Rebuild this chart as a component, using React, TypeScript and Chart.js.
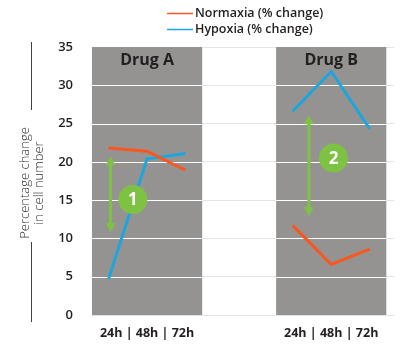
import { useEffect, useRef } from 'react';
import { Chart, registerables } from 'chart.js';

Chart.register(...registerables);

// ---- data ----
const groups = ['Drug A', 'Drug B'];
const timepoints = ['24h', '48h', '72h'];
const seriesNames = ['Normaxia (% change)', 'Hypoxia (% change)'];
const normoxiaA = [21.8, 21.4, 18.9];
const normoxiaB = [11.7, 6.6, 8.6];
const hypoxiaA = [4.7, 20.4, 21.1];
const hypoxiaB = [26.6, 31.8, 24.3];
const arrowFrom = [20.7, 26.1];
const arrowTo = [10.8, 12.9];
const markerLabels = ['1', '2'];
const markerValues = [15.1, 20.5];
const yTitleLines = ['Percentage change', 'in cell number'];
const yMin = 0;
const yMax = 35;
const yStep = 5;

// ---- layout (x in time-step units) ----
const GROUP_CENTERS = [1.43, 6.21];
const PANEL_HALF = 1.43;
const X_MAX = 7.84;
const ARROW_OFFSET = [-0.95, -0.58];
const MARKER_OFFSET = [-0.37, 0.06];

const ORANGE = '#f9571f';
const BLUE = '#1ba6de';
const GREEN = '#7dc243';
const PANEL = '#959392';
const TEXT = '#231f20';
const FONT = '"Open Sans", "Noto Sans", sans-serif';

const pts = (vals: number[], g: number) =>
  vals.map((v, i) => ({ x: GROUP_CENTERS[g] + (i - 1), y: v }));

const panelsPlugin = {
  id: 'panels',
  beforeDatasetsDraw(chart: any) {
    const { ctx, chartArea, scales } = chart;
    const xs = scales.x;
    const ys = scales.y;
    ctx.save();
    groups.forEach((name, g) => {
      const x0 = xs.getPixelForValue(GROUP_CENTERS[g] - PANEL_HALF);
      const x1 = xs.getPixelForValue(GROUP_CENTERS[g] + PANEL_HALF);
      const yb = ys.getPixelForValue(yMin);
      ctx.fillStyle = PANEL;
      ctx.fillRect(x0, chartArea.top, x1 - x0, yb - chartArea.top);
      ctx.strokeStyle = '#ffffff';
      ctx.lineWidth = 1;
      for (let v = yMin + yStep; v < yMax; v += yStep) {
        const y = Math.round(ys.getPixelForValue(v)) + 0.5;
        ctx.beginPath();
        ctx.moveTo(x0, y);
        ctx.lineTo(x1, y);
        ctx.stroke();
      }
      ctx.fillStyle = TEXT;
      ctx.font = `bold 16px ${FONT}`;
      ctx.textAlign = 'center';
      ctx.textBaseline = 'middle';
      ctx.fillText(name, (x0 + x1) / 2, chartArea.top + 13);
    });
    ctx.restore();
  },
  afterDatasetsDraw(chart: any) {
    const { ctx, scales } = chart;
    const xs = scales.x;
    const ys = scales.y;
    ctx.save();
    groups.forEach((_, g) => {
      const ax = xs.getPixelForValue(GROUP_CENTERS[g] + ARROW_OFFSET[g]);
      const y1 = ys.getPixelForValue(arrowFrom[g]);
      const y2 = ys.getPixelForValue(arrowTo[g]);
      const hh = 9;
      const hw = 5;
      ctx.strokeStyle = GREEN;
      ctx.fillStyle = GREEN;
      ctx.lineWidth = 3;
      ctx.beginPath();
      ctx.moveTo(ax, y1 + hh - 1);
      ctx.lineTo(ax, y2 - hh + 1);
      ctx.stroke();
      ctx.beginPath();
      ctx.moveTo(ax, y1);
      ctx.lineTo(ax - hw, y1 + hh);
      ctx.lineTo(ax + hw, y1 + hh);
      ctx.closePath();
      ctx.fill();
      ctx.beginPath();
      ctx.moveTo(ax, y2);
      ctx.lineTo(ax - hw, y2 - hh);
      ctx.lineTo(ax + hw, y2 - hh);
      ctx.closePath();
      ctx.fill();

      const mx = xs.getPixelForValue(GROUP_CENTERS[g] + MARKER_OFFSET[g]);
      const my = ys.getPixelForValue(markerValues[g]);
      ctx.beginPath();
      ctx.arc(mx, my, 14.5, 0, Math.PI * 2);
      ctx.fill();
      ctx.fillStyle = '#ffffff';
      ctx.font = `bold 17px ${FONT}`;
      ctx.textAlign = 'center';
      ctx.textBaseline = 'middle';
      ctx.fillText(markerLabels[g], mx, my + 1);
    });
    ctx.restore();
  },
  afterDraw(chart: any) {
    const { ctx, chartArea } = chart;
    ctx.save();
    // legend
    const colors = [ORANGE, BLUE];
    seriesNames.forEach((name, i) => {
      const y = 13.5 + i * 16;
      ctx.strokeStyle = colors[i];
      ctx.lineWidth = 1.5;
      ctx.beginPath();
      ctx.moveTo(167, y);
      ctx.lineTo(193, y);
      ctx.stroke();
      ctx.fillStyle = TEXT;
      ctx.font = `600 12.5px ${FONT}`;
      ctx.textAlign = 'left';
      ctx.textBaseline = 'middle';
      ctx.fillText(name, 195, y);
    });
    // y title
    const cy = (chartArea.top + chartArea.bottom) / 2 + 2;
    ctx.strokeStyle = '#444';
    ctx.lineWidth = 1;
    ctx.beginPath();
    ctx.moveTo(31.5, 42);
    ctx.lineTo(31.5, 110);
    ctx.moveTo(31.5, 242);
    ctx.lineTo(31.5, 322);
    ctx.stroke();
    ctx.translate(32, cy);
    ctx.rotate(-Math.PI / 2);
    ctx.fillStyle = '#333';
    ctx.font = `300 13px ${FONT}`;
    ctx.textAlign = 'center';
    ctx.textBaseline = 'middle';
    ctx.fillText(yTitleLines[0], 0, -7);
    ctx.fillText(yTitleLines[1], 0, 7);
    ctx.restore();
  },
};

export default function App() {
  const ref = useRef<HTMLCanvasElement | null>(null);
  useEffect(() => {
    document.body.style.margin = '0';
    if (!ref.current) return;
    const lineDs = (label: string, data: any[], color: string) => ({
      label,
      data,
      borderColor: color,
      backgroundColor: color,
      borderWidth: 3,
      pointRadius: 0,
      tension: 0,
      fill: false,
    });
    const chart = new Chart(ref.current, {
      type: 'line',
      data: {
        datasets: [
          lineDs(seriesNames[0], pts(normoxiaA, 0), ORANGE),
          lineDs(seriesNames[0], pts(normoxiaB, 1), ORANGE),
          lineDs(seriesNames[1], pts(hypoxiaA, 0), BLUE),
          lineDs(seriesNames[1], pts(hypoxiaB, 1), BLUE),
        ],
      },
      options: {
        animation: false,
        responsive: false,
        layout: { padding: { left: 32, top: 47, right: 8, bottom: 0 } },
        plugins: { legend: { display: false }, tooltip: { enabled: false } },
        scales: {
          x: {
            type: 'linear',
            min: 0,
            max: X_MAX,
            grid: { display: false },
            border: { display: false },
            afterBuildTicks: (s: any) => {
              s.ticks = GROUP_CENTERS.map((v) => ({ value: v }));
            },
            afterFit: (s: any) => {
              s.height = 39;
            },
            ticks: {
              autoSkip: false,
              maxRotation: 0,
              padding: 3,
              color: TEXT,
              font: { family: FONT, size: 12.5, weight: 'bold' },
              callback: () => timepoints.join(' | '),
            },
          },
          y: {
            min: yMin,
            max: yMax,
            grid: { color: '#e4e4e4', drawTicks: false, lineWidth: 1 },
            border: { display: false },
            afterFit: (s: any) => {
              s.width = 60;
            },
            ticks: {
              stepSize: yStep,
              padding: 19,
              color: TEXT,
              font: { family: FONT, size: 13, weight: '600' },
            },
          },
        },
      },
      plugins: [panelsPlugin],
    } as any);
    return () => chart.destroy();
  }, []);
  return (
    <div style={{ width: 402, height: 354, background: '#fff' }}>
      <canvas ref={ref} width={402} height={354} style={{ width: 402, height: 354, display: 'block' }} />
    </div>
  );
}
